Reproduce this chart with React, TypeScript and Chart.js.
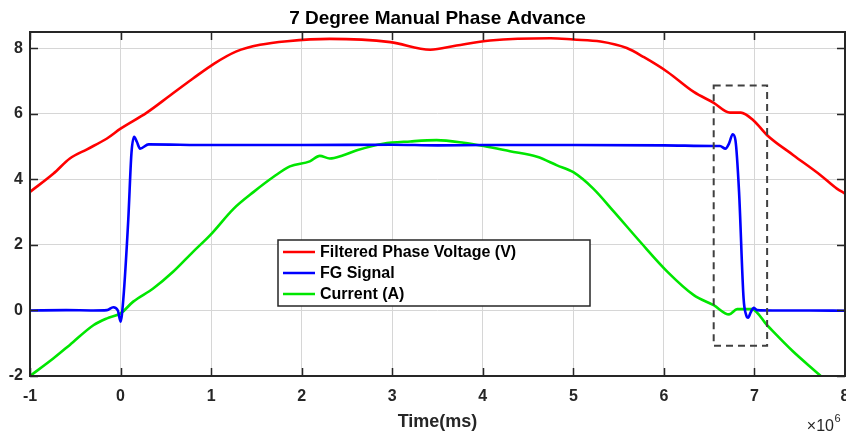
import React, { useEffect, useRef } from "react";
import { Chart, registerables } from "chart.js";

Chart.register(...registerables);

// ---- data (time in units of 1e6, as on the axis) ----
const voltageTime = [-1, -0.74, -0.56, -0.37, -0.15, 0, 0.29, 0.55, 0.8, 1.03, 1.28, 1.54, 1.84, 2.31, 2.98, 3.42, 3.71, 4.08, 4.75, 5.0, 5.3, 5.59, 5.78, 6.04, 6.33, 6.55, 6.73, 6.85, 6.99, 7.14, 7.43, 7.73, 7.91, 8.0];
const voltageValues = [3.62, 4.18, 4.64, 4.92, 5.25, 5.55, 6.04, 6.57, 7.08, 7.53, 7.91, 8.11, 8.22, 8.29, 8.19, 7.96, 8.09, 8.24, 8.31, 8.27, 8.21, 8.01, 7.73, 7.28, 6.67, 6.34, 6.04, 6.04, 5.8, 5.35, 4.74, 4.13, 3.72, 3.57];

const fgTime = [-1, -0.6, -0.3, -0.15, -0.08, -0.03, 0, 0.03, 0.085, 0.12, 0.15, 0.18, 0.215, 0.31, 1, 2, 3, 3.5, 4, 5, 6, 6.55, 6.62, 6.68, 6.72, 6.76, 6.79, 6.83, 6.88, 6.91, 6.93, 6.96, 6.99, 7.03, 7.2, 7.6, 8];
const fgValues = [0, 0.01, 0, 0.01, 0.1, 0.0, -0.34, 0.33, 2.76, 4.79, 5.3, 5.15, 4.94, 5.07, 5.05, 5.05, 5.06, 5.04, 5.05, 5.05, 5.04, 5.02, 5.02, 4.94, 5.1, 5.38, 5.2, 3.62, 0.37, -0.15, -0.22, -0.05, 0.08, 0.01, 0, 0, -0.01];

const currentTime = [-1, -0.74, -0.56, -0.3, -0.15, 0, 0.14, 0.36, 0.58, 0.8, 0.99, 1.25, 1.47, 1.69, 1.87, 2.09, 2.2, 2.31, 2.46, 2.61, 2.9, 3.2, 3.49, 3.79, 4.01, 4.3, 4.6, 4.82, 5.0, 5.22, 5.45, 5.74, 6.04, 6.33, 6.55, 6.72, 6.81, 6.97, 7.14, 7.43, 7.72, 8.0];
const currentValues = [-2.0, -1.46, -1.05, -0.45, -0.24, -0.09, 0.27, 0.67, 1.18, 1.79, 2.3, 3.11, 3.62, 4.08, 4.4, 4.55, 4.72, 4.64, 4.74, 4.89, 5.09, 5.16, 5.2, 5.12, 5.02, 4.86, 4.69, 4.43, 4.22, 3.72, 3.01, 2.09, 1.18, 0.47, 0.16, -0.12, 0.04, 0.04, -0.45, -1.26, -1.97, -2.7];

const seriesLabels = ["Filtered Phase Voltage (V)", "FG Signal", "Current (A)"];
const seriesColors = ["#ff0000", "#0000ff", "#00e600"];

const titleText = "7 Degree Manual Phase Advance";
const xAxisLabel = "Time(ms)";
const xExponent = "6";

const xTicks = [-1, 0, 1, 2, 3, 4, 5, 6, 7, 8];
const yTicks = [-2, 0, 2, 4, 6, 8];
const xRange = [-1, 8];
const yRange = [-2, 8.5];

// highlighted region (data coords)
const boxX = [6.55, 7.14];
const boxY = [-1.08, 6.87];

const FONT = "'Liberation Sans', Arial, sans-serif";
const AXIS_COLOR = "#262626";

function zip(xs: number[], ys: number[]) {
  return xs.map((x, i) => ({ x, y: ys[i] }));
}

const decorPlugin = {
  id: "matlabDecor",
  afterDraw(chart: any) {
    const { ctx, chartArea: ca, scales } = chart;
    const xs = scales.x;
    const ys = scales.y;
    ctx.save();

    // axes box
    ctx.strokeStyle = AXIS_COLOR;
    ctx.lineWidth = 2;
    ctx.strokeRect(ca.left, ca.top, ca.right - ca.left, ca.bottom - ca.top);

    // inward ticks
    ctx.lineWidth = 1.5;
    const tl = 8;
    ctx.beginPath();
    xTicks.forEach((v) => {
      const px = Math.round(xs.getPixelForValue(v)) + 0.5;
      ctx.moveTo(px, ca.bottom);
      ctx.lineTo(px, ca.bottom - tl);
      ctx.moveTo(px, ca.top);
      ctx.lineTo(px, ca.top + tl);
    });
    yTicks.forEach((v) => {
      const py = Math.round(ys.getPixelForValue(v)) + 0.5;
      ctx.moveTo(ca.left, py);
      ctx.lineTo(ca.left + tl, py);
      ctx.moveTo(ca.right, py);
      ctx.lineTo(ca.right - tl, py);
    });
    ctx.stroke();

    // dashed highlight box
    ctx.strokeStyle = "#404040";
    ctx.lineWidth = 2;
    ctx.setLineDash([7, 5]);
    const bx0 = xs.getPixelForValue(boxX[0]);
    const bx1 = xs.getPixelForValue(boxX[1]);
    const by0 = ys.getPixelForValue(boxY[1]);
    const by1 = ys.getPixelForValue(boxY[0]);
    ctx.strokeRect(bx0, by0, bx1 - bx0, by1 - by0);
    ctx.setLineDash([]);

    // legend
    const lx = 278, ly = 240, lw = 312, lh = 66;
    ctx.fillStyle = "#ffffff";
    ctx.fillRect(lx, ly, lw, lh);
    ctx.strokeStyle = AXIS_COLOR;
    ctx.lineWidth = 1.5;
    ctx.strokeRect(lx, ly, lw, lh);
    ctx.font = `bold 16px ${FONT}`;
    ctx.textBaseline = "middle";
    ctx.textAlign = "left";
    chart.data.datasets.forEach((ds: any, i: number) => {
      const rowY = ly + 12 + i * 21;
      ctx.strokeStyle = ds.borderColor;
      ctx.lineWidth = 2.5;
      ctx.beginPath();
      ctx.moveTo(lx + 5, rowY);
      ctx.lineTo(lx + 37, rowY);
      ctx.stroke();
      ctx.fillStyle = "#000000";
      ctx.fillText(ds.label, lx + 42, rowY + 1);
    });

    // title
    const cx = (ca.left + ca.right) / 2;
    ctx.fillStyle = "#000000";
    ctx.textAlign = "center";
    ctx.textBaseline = "alphabetic";
    ctx.font = `bold 19px ${FONT}`;
    ctx.fillText(titleText, cx, 24);

    // x label
    ctx.fillStyle = AXIS_COLOR;
    ctx.font = `bold 18px ${FONT}`;
    ctx.fillText(xAxisLabel, cx, 427);

    // exponent
    ctx.textAlign = "left";
    ctx.font = `16px ${FONT}`;
    const base = "\u00d710";
    const bw = ctx.measureText(base).width;
    const ex = 846 - 4 - bw - 8;
    ctx.fillText(base, ex, 431);
    ctx.font = `11px ${FONT}`;
    ctx.fillText(xExponent, ex + bw + 0.5, 422);

    ctx.restore();
  },
};

export default function App() {
  const ref = useRef<HTMLCanvasElement>(null);
  useEffect(() => {
    document.body.style.margin = "0";
    const canvas = ref.current!;
    const chart = new Chart(canvas, {
      type: "line",
      data: {
        datasets: [
          { label: seriesLabels[0], data: zip(voltageTime, voltageValues), borderColor: seriesColors[0] },
          { label: seriesLabels[1], data: zip(fgTime, fgValues), borderColor: seriesColors[1] },
          { label: seriesLabels[2], data: zip(currentTime, currentValues), borderColor: seriesColors[2] },
        ].map((d) => ({ ...d, borderWidth: 2.6, pointRadius: 0, tension: 0.35, cubicInterpolationMode: "monotone" as const, fill: false })),
      },
      options: {
        responsive: false,
        animation: false,
        events: [],
        layout: { padding: { top: 32, right: 1, left: 0, bottom: 0 } },
        plugins: { legend: { display: false }, title: { display: false }, tooltip: { enabled: false } },
        scales: {
          x: {
            type: "linear",
            min: xRange[0],
            max: xRange[1],
            afterBuildTicks: (s: any) => { s.ticks = xTicks.map((v) => ({ value: v })); },
            afterFit: (s: any) => { s.height = 58; s.paddingLeft = 0; s.paddingRight = 0; },
            grid: { color: "#d6d6d6", lineWidth: 1, drawTicks: false },
            border: { display: false },
            ticks: { color: AXIS_COLOR, font: { family: FONT, size: 16, weight: "bold" }, padding: 11, maxRotation: 0, autoSkip: false },
          },
          y: {
            type: "linear",
            min: yRange[0],
            max: yRange[1],
            afterBuildTicks: (s: any) => { s.ticks = yTicks.map((v) => ({ value: v })); },
            afterFit: (s: any) => { s.width = 30; s.paddingTop = 0; s.paddingBottom = 0; },
            grid: { color: "#d6d6d6", lineWidth: 1, drawTicks: false },
            border: { display: false },
            ticks: { color: AXIS_COLOR, font: { family: FONT, size: 16, weight: "bold" }, padding: 7, autoSkip: false },
          },
        },
      },
      plugins: [decorPlugin],
    });
    return () => chart.destroy();
  }, []);
  return (
    <div style={{ width: 846, height: 434 }}>
      <canvas ref={ref} width={846} height={434} style={{ display: "block" }} />
    </div>
  );
}
